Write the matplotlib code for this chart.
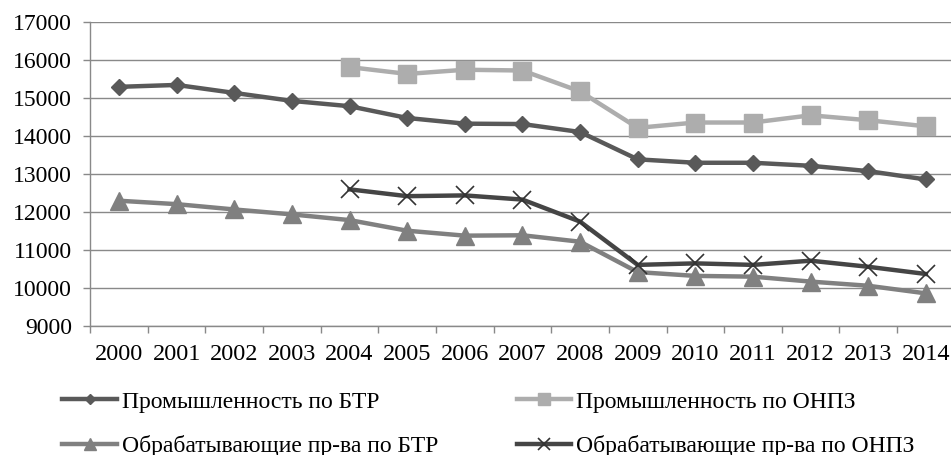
import numpy as np
import matplotlib.pyplot as plt

plt.rcParams['font.family'] = ['Liberation Serif', 'DejaVu Serif']

# data
years = [str(y) for y in range(2000, 2015)]
nan = np.nan
prom_btr = [15300, 15350, 15140, 14930, 14790, 14480, 14330, 14320,
            14110, 13390, 13300, 13300, 13220, 13080, 12860]
prom_onpz = [nan, nan, nan, nan, 15820, 15640, 15750, 15730,
             15180, 14220, 14360, 14360, 14550, 14420, 14260]
obr_btr = [12300, 12210, 12070, 11940, 11790, 11510, 11380, 11390,
           11220, 10420, 10320, 10300, 10170, 10060, 9860]
obr_onpz = [nan, nan, nan, nan, 12600, 12420, 12440, 12330,
            11750, 10610, 10650, 10610, 10720, 10560, 10370]
names = ['Промышленность по БТР', 'Промышленность по ОНПЗ',
         'Обрабатывающие пр-ва по БТР', 'Обрабатывающие пр-ва по ОНПЗ']

grid_col = '#898989'

fig = plt.figure(figsize=(9.51, 4.55), dpi=100)
ax = fig.add_axes([0.0948, 0.2835, 0.9091, 0.6675])

x = np.arange(len(years))
l1, = ax.plot(x, prom_btr, color='#595959', lw=3.2, marker='D', ms=8)
l2, = ax.plot(x, prom_onpz, color='#ADADAD', lw=3.2, marker='s', ms=13)
l3, = ax.plot(x, obr_btr, color='#808080', lw=3.2, marker='^', ms=13)
l4, = ax.plot(x, obr_onpz, color='#454545', lw=3.2, marker='x', ms=13,
              mew=1.2, mec='#333333')

ax.set_xlim(-0.5, len(years) - 0.5)
ax.set_ylim(9000, 17000)
ax.set_yticks(np.arange(9000, 17001, 1000))
ax.yaxis.grid(True, color=grid_col, lw=1.0)
ax.set_axisbelow(True)

# category boundaries as major ticks, labels on minor ticks
ax.set_xticks(np.arange(-0.5, len(years)), [''] * (len(years) + 1))
ax.set_xticks(x, years, minor=True)
ax.tick_params(axis='x', which='major', length=5, width=1.0, color=grid_col)
ax.tick_params(axis='x', which='minor', length=0, pad=13, labelsize=17.5)
ax.tick_params(axis='y', length=5, width=1.0, color=grid_col, pad=8, labelsize=17)

for s in ['top', 'right']:
    ax.spines[s].set_visible(False)
for s in ['left', 'bottom']:
    ax.spines[s].set_color(grid_col)
    ax.spines[s].set_linewidth(1.0)

leg_kw = dict(loc='upper left', frameon=False, fontsize=17, borderpad=0,
              borderaxespad=0, handlelength=2.29, handletextpad=0.21,
              labelspacing=0.95, markerscale=0.7)
fig.legend([l1, l3], [names[0], names[2]],
           bbox_to_anchor=(62.5 / 951, 1 - 391 / 455), **leg_kw)
fig.legend([l2, l4], [names[1], names[3]],
           bbox_to_anchor=(516.5 / 951, 1 - 391 / 455), **leg_kw)

fig.savefig('out.png', dpi=100)
